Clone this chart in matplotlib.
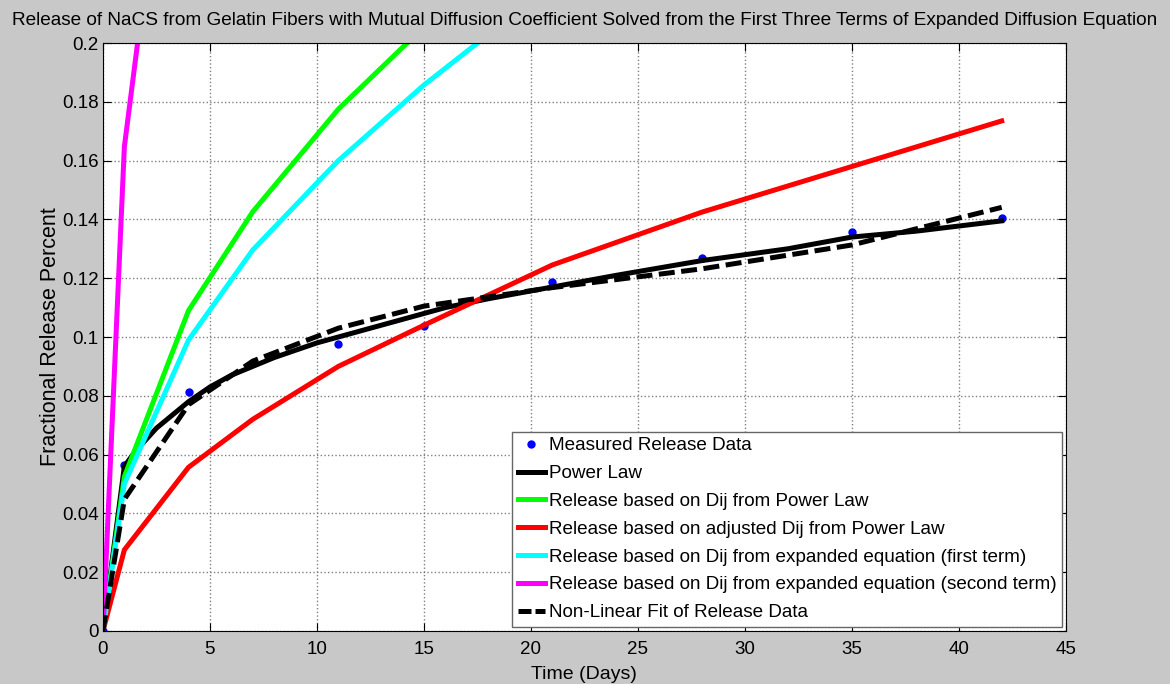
import matplotlib.pyplot as plt
from matplotlib.ticker import FormatStrFormatter

# measured release data
t_data = [0, 1, 4, 7, 11, 15, 21, 28, 35, 42]
y_data = [0, 0.0565, 0.0814, 0.0910, 0.0977, 0.1039, 0.1188, 0.1268, 0.1358, 0.1405]

# power law curve
t_pow = [0, 1, 1.5, 2, 2.5, 3, 4, 5, 6, 7, 8, 10, 12, 14, 16, 18, 21, 24, 28, 32, 35, 38, 42]
y_pow = [0, 0.056, 0.061, 0.065, 0.069, 0.072, 0.078, 0.083, 0.087, 0.090, 0.093,
         0.098, 0.102, 0.106, 0.110, 0.113, 0.117, 0.121, 0.126, 0.130, 0.134, 0.136, 0.1395]

# model curves at the data times
y_green = [0, 0.0525, 0.1090, 0.1426, 0.1775, 0.2055, 0.235, 0.265, 0.29, 0.315]
y_red = [0, 0.0276, 0.0557, 0.0720, 0.0900, 0.1040, 0.1245, 0.1425, 0.1580, 0.1735]
y_cyan = [0, 0.0500, 0.0990, 0.1296, 0.1600, 0.1857, 0.220, 0.255, 0.285, 0.31]
y_magenta = [0, 0.1647, 0.336, 0.50, 0.70, 0.90, 1.2, 1.5, 1.8, 2.1]
y_fit = [0, 0.0448, 0.0770, 0.0918, 0.1030, 0.1105, 0.1168, 0.1232, 0.1313, 0.1441]

labels = ["Measured Release Data", "Power Law", "Release based on Dij from Power Law",
          "Release based on adjusted Dij from Power Law",
          "Release based on Dij from expanded equation (first term)",
          "Release based on Dij from expanded equation (second term)",
          "Non-Linear Fit of Release Data"]

plt.rcParams['font.family'] = ['Liberation Sans', 'DejaVu Sans']

fig = plt.figure(figsize=(11.7, 6.84), dpi=100, facecolor='#c8c8c8')
ax = fig.add_axes([0.088, 0.0775, 0.823, 0.8596])
ax.set_facecolor('white')

lw = 3.6
ax.plot(t_data, y_data, '.', color='#0000ff', markersize=10, label=labels[0])
ax.plot(t_pow, y_pow, color='black', lw=lw, label=labels[1])
ax.plot(t_data, y_green, color='#00ff00', lw=lw, label=labels[2])
ax.plot(t_data, y_red, color='#ff0000', lw=lw, label=labels[3])
ax.plot(t_data, y_cyan, color='#00ffff', lw=lw, label=labels[4])
ax.plot(t_data, y_magenta, color='#ff00ff', lw=lw, label=labels[5])
ax.plot(t_data, y_fit, color='black', lw=lw, dashes=(3.2, 1.3), label=labels[6])

ax.set_xlim(0, 45)
ax.set_ylim(0, 0.2)
ax.set_xticks(range(0, 46, 5))
ax.set_yticks([i * 0.02 for i in range(11)])
ax.yaxis.set_major_formatter(FormatStrFormatter('%g'))
ax.tick_params(direction='in', top=True, right=True, length=6, labelsize=13.5)
ax.tick_params(axis='x', pad=7)
ax.tick_params(axis='y', pad=3)
ax.grid(True, linestyle=':', color='#808080', linewidth=1.0)
for s in ax.spines.values():
    s.set_linewidth(0.8)

ax.set_title("Release of NaCS from Gelatin Fibers with Mutual Diffusion Coefficient Solved from the First Three Terms of Expanded Diffusion Equation",
             fontsize=13.7, pad=13)
ax.set_xlabel("Time (Days)", fontsize=14, labelpad=6)
ax.set_ylabel("Fractional Release Percent", fontsize=15.5, labelpad=1)

leg = ax.legend(loc='lower right', bbox_to_anchor=(0.996, 0.007), fontsize=13.6, handlelength=1.45,
                handletextpad=0.2, labelspacing=0.56, borderpad=0.3, fancybox=False,
                framealpha=1, edgecolor='#666666', borderaxespad=0)
leg.get_frame().set_linewidth(1.0)
# two solid dashes in the legend sample, as in the reference
leg.get_lines()[-1].set_dashes((2.6, 0.8))

fig.savefig("out.png", dpi=100, facecolor=fig.get_facecolor())
